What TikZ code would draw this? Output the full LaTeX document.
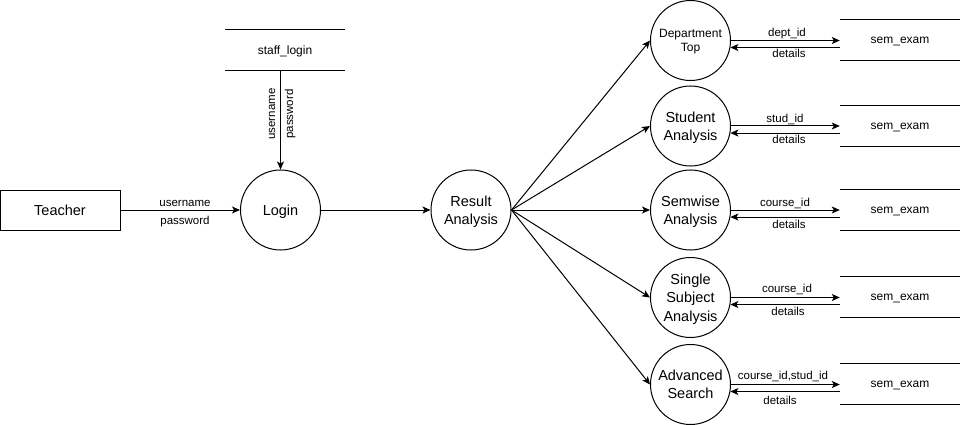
\documentclass[tikz,border=0pt]{standalone}
\usepackage{fontspec}
\setmainfont{Liberation Sans}
\usetikzlibrary{arrows.meta,calc}
\tikzset{
  proc/.style={draw,circle,minimum size=80pt,inner sep=0pt,line width=1pt,align=center,text depth=0pt,font=\fontsize{14.5}{18.3}\selectfont},
  smallproc/.style={proc,font=\fontsize{12}{14.3}\selectfont},
  ent/.style={draw,rectangle,minimum width=120pt,minimum height=40pt,line width=1pt,text depth=0pt,font=\fontsize{14.5}{17}\selectfont},
  store/.style={rectangle,minimum width=120pt,minimum height=40pt,inner sep=0pt,text depth=0pt,font=\fontsize{12}{14}\selectfont},
  storeline/.style={line width=1pt},
  arr/.style={line width=1pt,-{Stealth[length=8pt,width=7pt,inset=2pt]}},
  lbl/.style={inner sep=0pt,text depth=0pt,font=\fontsize{11.5}{13}\selectfont}
}
\begin{document}
\begin{tikzpicture}[x=1pt,y=-1pt]
\useasboundingbox[fill=white] (0,0) rectangle (961,425);
% left part
\node[ent] (teacher) at (60,210) {Teacher};
\node[proc] (login) at (280.5,210) {Login};
\node[store] (staff) at (285,50) {staff\_login};
\draw[storeline] (staff.north west) -- (staff.north east);
\draw[storeline] (staff.south west) -- (staff.south east);
\node[proc] (ra) at (471,210) {Result\\Analysis};
\draw[arr] (teacher.east) -- (login.west);
\draw[arr] (login.north |- staff.south) -- (login.north);
\draw[arr] (login.east) -- (ra.west);
\node[lbl] (l1) at (185,203) {username};
\node[lbl] (l2) at (185,220) {password};
\node[lbl,rotate=90] (l3) at (272,114) {username};
\node[lbl,rotate=90] (l4) at (289,114) {password};
% right part processes
\node[smallproc] (c1) at (690.5,40.5) {Department\\Top};
\node[proc] (c2) at (690.5,126) {Student\\Analysis};
\node[proc] (c3) at (690.5,210) {Semwise\\Analysis};
\node[proc] (c4) at (690.5,297.5) {Single\\Subject\\Analysis};
\node[proc] (c5) at (690.5,384.5) {Advanced\\Search};
% stores
\node[store] (s1) at (900,40) {sem\_exam};
\node[store] (s2) at (900,126) {sem\_exam};
\node[store] (s3) at (900,210) {sem\_exam};
\node[store] (s4) at (900,297) {sem\_exam};
\node[store] (s5) at (900,384) {sem\_exam};
\foreach \s in {s1,s2,s3,s4,s5}{
  \draw[storeline] (\s.north west) -- (\s.north east);
  \draw[storeline] (\s.south west) -- (\s.south east);
}
% result analysis fan-out
\foreach \c in {c1,c2,c3,c4,c5}{
  \draw[arr] (ra.east) -- (\c.west);
}
% flows to and from stores
\foreach \c/\s in {c1/s1,c2/s2,c3/s3,c4/s4,c5/s5}{
  \draw[arr] (\c.east) -- (\c.east -| \s.west);
  \draw[arr] (\s.west |- \c.-10) -- (\c.-10);
}
\node[lbl] (d1a) at (787,32.5) {dept\_id};
\node[lbl] (d1b) at (789,53.5) {details};
\node[lbl] (d2a) at (785,118) {stud\_id};
\node[lbl] (d2b) at (789,139.5) {details};
\node[lbl] (d3a) at (785,202.5) {course\_id};
\node[lbl] (d3b) at (789,224.5) {details};
\node[lbl] (d4a) at (787,288.5) {course\_id};
\node[lbl] (d4b) at (788,311) {details};
\node[lbl] (d5a) at (783,375.5) {course\_id,stud\_id};
\node[lbl] (d5b) at (780,400.5) {details};
\end{tikzpicture}
\end{document}
